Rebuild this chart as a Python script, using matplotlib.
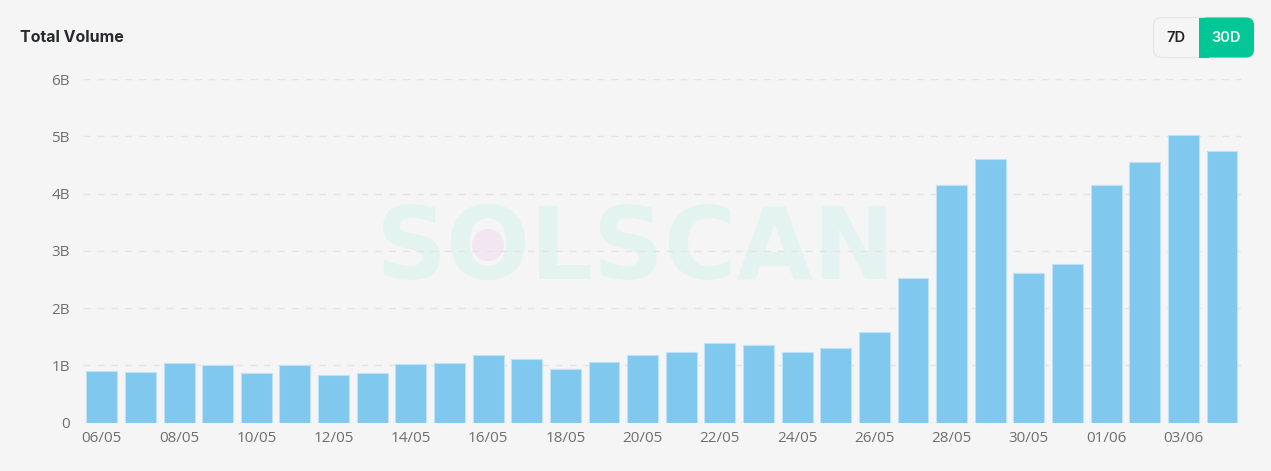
import matplotlib.pyplot as plt
import matplotlib.patches as patches
from matplotlib.ticker import FuncFormatter

# ---------------------------------------------------------------
# Data (daily total volume, billions)
# ---------------------------------------------------------------
dates = [
    "06/05", "07/05", "08/05", "09/05", "10/05", "11/05", "12/05", "13/05",
    "14/05", "15/05", "16/05", "17/05", "18/05", "19/05", "20/05", "21/05",
    "22/05", "23/05", "24/05", "25/05", "26/05", "27/05", "28/05", "29/05",
    "30/05", "31/05", "01/06", "02/06", "03/06", "04/06",
]
volume_b = [
    0.90, 0.88, 1.04, 1.00, 0.86, 1.01, 0.84, 0.87,
    1.02, 1.04, 1.18, 1.12, 0.93, 1.06, 1.18, 1.23,
    1.40, 1.35, 1.23, 1.31, 1.58, 2.52, 4.15, 4.60,
    2.62, 2.77, 4.15, 4.55, 5.03, 4.74,
]
y_ticks = [0, 1, 2, 3, 4, 5, 6]

# ---------------------------------------------------------------
# Style
# ---------------------------------------------------------------
BG = '#f5f5f5'
BAR = '#80c8ee'
BAR_EDGE = '#bfe2f6'
GRID = '#e4e4e4'
TICK = '#6e6e73'
GREEN = '#00c795'

W, H = 1271, 471
fig = plt.figure(figsize=(W / 100, H / 100), dpi=100, facecolor=BG)

# pixel-space helper axes (behind everything)
ov = fig.add_axes([0, 0, 1, 1], zorder=-1)
ov.set_xlim(0, W)
ov.set_ylim(H, 0)
ov.axis('off')

# plot area in pixel coords
L, R, TOP, BOT = 82.5, 1241.3, 79.0, 422.7
ax = fig.add_axes([L / W, 1 - BOT / H, (R - L) / W, (BOT - TOP) / H])
ax.set_facecolor('none')

x = list(range(len(dates)))
ax.bar(x, volume_b, width=0.8, color=BAR, edgecolor=BAR_EDGE, linewidth=0.8, zorder=3)

ax.set_xlim(-0.5, len(dates) - 0.5)
ax.set_ylim(0, 6)
ax.set_yticks(y_ticks)
ax.yaxis.set_major_formatter(FuncFormatter(lambda v, p: "0" if v == 0 else f"{v:.0f}B"))
ax.set_xticks(x[::2])
ax.set_xticklabels(dates[::2])

for s in ax.spines.values():
    s.set_visible(False)
ax.tick_params(length=0, colors=TICK, labelsize=11)
ax.tick_params(axis='y', pad=9)
ax.tick_params(axis='x', pad=6)
for lbl in ax.get_xticklabels() + ax.get_yticklabels():
    lbl.set_fontfamily('Open Sans')

ax.grid(axis='y', color=GRID, linestyle=(0, (5, 5)), linewidth=1.0, zorder=1)
ax.set_axisbelow(True)

# watermark
ax.text(636, 252, "SOLSCAN", transform=ov.transData, ha='center', va='center',
        fontsize=71, fontweight='bold', color='#e3f4f0', family='DejaVu Sans', zorder=0.2)
ax.add_patch(patches.Circle((488, 245), 16, transform=ov.transData,
                            facecolor='#f3e6f3', edgecolor='none', zorder=0.4))

top = fig.add_axes([0, 0, 1, 1], zorder=5)
top.set_xlim(0, W)
top.set_ylim(H, 0)
top.axis('off')
top.patch.set_alpha(0)

top.text(20, 38, "Total Volume", ha='left', va='center', fontsize=11.5,
         fontweight='bold', color='#262a2e', family='Inter')

# 7D / 30D toggle
bx0, bx1, by0, by1, split = 1153.5, 1254, 17.5, 57.5, 1199
top.add_patch(patches.FancyBboxPatch((bx0, by0), bx1 - bx0, by1 - by0,
                                     boxstyle='round,pad=0,rounding_size=8',
                                     facecolor=BG, edgecolor='#e6e6e6', linewidth=1))
top.add_patch(patches.FancyBboxPatch((split, by0), bx1 - split, by1 - by0,
                                     boxstyle='round,pad=0,rounding_size=8',
                                     facecolor=GREEN, edgecolor='none'))
top.add_patch(patches.Rectangle((split, by0), 10, by1 - by0, facecolor=GREEN, edgecolor='none'))
top.text((bx0 + split) / 2, 38, "7D", ha='center', va='center', fontsize=10.5,
         fontweight='semibold', color='#222', family='Inter')
top.text((split + bx1) / 2, 38, "30D", ha='center', va='center', fontsize=10.5,
         fontweight='semibold', color='white', family='Inter')

fig.savefig('out.png', dpi=100, facecolor=BG)
